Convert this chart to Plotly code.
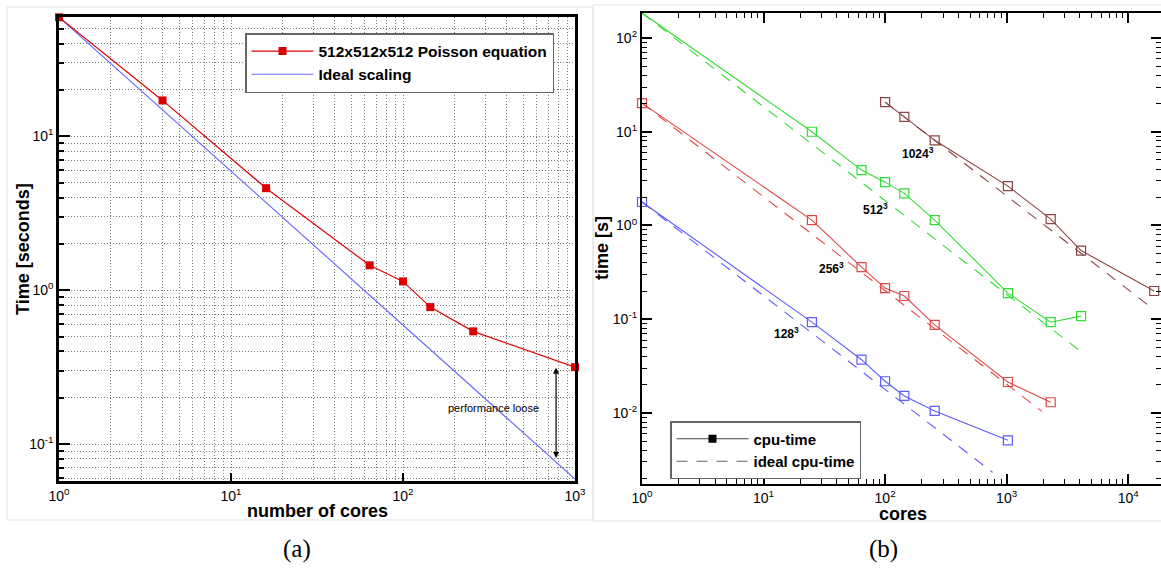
import plotly.graph_objects as go

W, H = 1161, 571

# ---------------- Panel (a) data ----------------
cores_a = [1, 4, 16, 64, 100, 144, 256, 1000]
time_a = [59.3, 17.1, 4.6, 1.45, 1.14, 0.776, 0.54, 0.316]
ideal_a_cores = [1, 1000]
ideal_a_time = [59.3, 0.0593]

# ---------------- Panel (b) data ----------------
cores_128 = [1, 25, 64, 100, 144, 256, 1024]
time_128 = [1.78, 0.093, 0.037, 0.0218, 0.0152, 0.0105, 0.0051]
cores_256 = [1, 25, 64, 100, 144, 256, 1024, 2304]
time_256 = [20.2, 1.14, 0.36, 0.215, 0.177, 0.087, 0.0214, 0.013]
cores_512 = [1, 25, 64, 100, 144, 256, 1024, 2304, 4096]
time_512 = [185, 10, 3.9, 2.9, 2.2, 1.14, 0.19, 0.093, 0.108]
cores_1024 = [100, 144, 256, 1024, 2304, 4096, 16384]
time_1024 = [20.7, 14.4, 8.1, 2.63, 1.17, 0.54, 0.2]

ideal_128_cores, ideal_128_time = [1, 768], [1.78, 0.00232]
ideal_256_cores, ideal_256_time = [1, 1950], [20.2, 0.0104]
ideal_512_cores, ideal_512_time = [1, 4096], [185, 0.045]
ideal_1024_cores, ideal_1024_time = [100, 16384], [20.7, 0.126]

tick_vals_a_x = [1, 10, 100, 1000]
tick_text_a_x = ["10<sup>0</sup>", "10<sup>1</sup>", "10<sup>2</sup>", "10<sup>3</sup>"]
tick_vals_a_y = [0.1, 1, 10]
tick_text_a_y = ["10<sup>-1</sup>", "10<sup>0</sup>", "10<sup>1</sup>"]
tick_vals_b_x = [1, 10, 100, 1000, 10000]
tick_text_b_x = ["10<sup>0</sup>", "10<sup>1</sup>", "10<sup>2</sup>", "10<sup>3</sup>", "10<sup>4</sup>"]
tick_vals_b_y = [0.01, 0.1, 1, 10, 100]
tick_text_b_y = ["10<sup>-2</sup>", "10<sup>-1</sup>", "10<sup>0</sup>", "10<sup>1</sup>", "10<sup>2</sup>"]

C_RED_A = "#dd0000"
C_BLUE_A = "#6a6aff"
C_GREEN = "#33dd33"
C_RED = "#e04848"
C_BLUE = "#5c5cff"
C_BROWN = "#8a4444"

FONT = "Liberation Sans, Arial, sans-serif"
GRID_COLOR = "#7a7a7a"
GRID_DASH = "1px,2px"


def px(x):
    return x / W


def py(y):
    return 1 - y / H


fig = go.Figure()

# ---- panel (a) traces ----
fig.add_trace(go.Scatter(
    x=ideal_a_cores, y=ideal_a_time, mode="lines", name="Ideal scaling",
    line=dict(color=C_BLUE_A, width=1.2), xaxis="x", yaxis="y", legend="legend",
    legendrank=2))
fig.add_trace(go.Scatter(
    x=cores_a, y=time_a, mode="lines+markers", name="512x512x512 Poisson equation",
    line=dict(color=C_RED_A, width=1.2),
    marker=dict(symbol="square", size=8, color=C_RED_A),
    cliponaxis=False, xaxis="x", yaxis="y", legend="legend", legendrank=1))

# ---- panel (b) traces ----
series = [
    (cores_512, time_512, ideal_512_cores, ideal_512_time, C_GREEN),
    (cores_256, time_256, ideal_256_cores, ideal_256_time, C_RED),
    (cores_128, time_128, ideal_128_cores, ideal_128_time, C_BLUE),
    (cores_1024, time_1024, ideal_1024_cores, ideal_1024_time, C_BROWN),
]
for cx, cy, ix, iy, col in series:
    fig.add_trace(go.Scatter(
        x=ix, y=iy, mode="lines", showlegend=False,
        line=dict(color=col, width=1.1, dash="11px,9px"), xaxis="x2", yaxis="y2"))
    fig.add_trace(go.Scatter(
        x=cx, y=cy, mode="lines+markers", showlegend=False,
        line=dict(color=col, width=1.1),
        marker=dict(symbol="square-open", size=9, color=col, line=dict(width=1.2, color=col)),
        cliponaxis=False, xaxis="x2", yaxis="y2"))

# legend entries for panel (b)
fig.add_trace(go.Scatter(
    x=[None], y=[None], mode="lines+markers", name="cpu-time",
    line=dict(color="#444444", width=1.2),
    marker=dict(symbol="square", size=8, color="black"),
    xaxis="x2", yaxis="y2", legend="legend2"))
fig.add_trace(go.Scatter(
    x=[None], y=[None], mode="lines", name="ideal cpu-time",
    line=dict(color="#666666", width=1.2, dash="11px,9px"),
    xaxis="x2", yaxis="y2", legend="legend2"))

grid_a = dict(showgrid=True, gridcolor=GRID_COLOR, griddash=GRID_DASH, gridwidth=1)

fig.update_layout(
    width=W, height=H,
    margin=dict(l=0, r=0, t=0, b=0, autoexpand=False),
    paper_bgcolor="white", plot_bgcolor="white",
    font=dict(family=FONT, color="black", size=14),
    xaxis=dict(
        type="log", domain=[px(59), px(575)], range=[0, 3], anchor="y",
        automargin=False,
        tickmode="array", tickvals=tick_vals_a_x, ticktext=tick_text_a_x,
        ticks="inside", ticklen=8, tickwidth=2, tickcolor="black",
        showline=True, linecolor="black", linewidth=2.5, mirror=True,
        tickfont=dict(size=14), zeroline=False,
        minor=dict(dtick="D1", ticks="", showgrid=True, gridcolor=GRID_COLOR,
                   griddash=GRID_DASH, gridwidth=1),
        **grid_a),
    yaxis=dict(
        type="log", domain=[py(481), py(17)], range=[-1.240, 1.775], anchor="x",
        automargin=False,
        tickmode="array", tickvals=tick_vals_a_y, ticktext=tick_text_a_y,
        ticks="inside", ticklen=11, tickwidth=2, tickcolor="black",
        showline=True, linecolor="black", linewidth=2.5, mirror=True,
        tickfont=dict(size=14), zeroline=False,
        minor=dict(dtick="D1", ticks="inside", ticklen=5, tickwidth=1.5, tickcolor="black",
                   showgrid=True, gridcolor=GRID_COLOR, griddash=GRID_DASH, gridwidth=1),
        **grid_a),
    xaxis2=dict(
        type="log", domain=[px(642), 1.0], range=[0, 4.27], anchor="y2",
        automargin=False,
        tickmode="array", tickvals=tick_vals_b_x, ticktext=tick_text_b_x,
        ticks="inside", ticklen=10, tickwidth=2, tickcolor="black",
        showline=True, linecolor="black", linewidth=2.2, mirror="allticks",
        showgrid=False, zeroline=False, tickfont=dict(size=14),
        minor=dict(dtick="D1", ticks="inside", ticklen=5, tickwidth=1.2,
                   tickcolor="black", showgrid=False)),
    yaxis2=dict(
        type="log", domain=[py(484), py(13)], range=[-2.758, 2.267], anchor="x2",
        automargin=False,
        tickmode="array", tickvals=tick_vals_b_y, ticktext=tick_text_b_y,
        ticks="inside", ticklen=10, tickwidth=2, tickcolor="black",
        showline=True, linecolor="black", linewidth=2.2, mirror="allticks",
        showgrid=False, zeroline=False, tickfont=dict(size=14),
        minor=dict(dtick="D1", ticks="inside", ticklen=5, tickwidth=1.2,
                   tickcolor="black", showgrid=False)),
    legend=dict(
        x=px(245), y=py(33), xanchor="left", yanchor="top",
        bgcolor="white", bordercolor="#666666", borderwidth=1.5,
        font=dict(size=15.5, family=FONT, weight="bold"),
        tracegroupgap=0, itemwidth=62, traceorder="normal"),
    legend2=dict(
        x=px(670), y=py(421), xanchor="left", yanchor="top",
        bgcolor="white", bordercolor="#666666", borderwidth=1.5,
        font=dict(size=15, family=FONT, weight="bold"),
        tracegroupgap=0, itemwidth=72),
    showlegend=True,
)

annotations = [
    # axis titles
    dict(text="<b>number of cores</b>", x=px(317), y=py(511), font=dict(size=18)),
    dict(text="<b>Time [seconds]</b>", x=px(23), y=py(249), textangle=-90, font=dict(size=18)),
    dict(text="<b>cores</b>", x=px(903), y=py(514), font=dict(size=18)),
    dict(text="<b>time [s]</b>", x=px(602), y=py(248), textangle=-90, font=dict(size=18)),
    # captions
    dict(text="(a)", x=px(297), y=py(549), font=dict(size=25, family="Liberation Serif, Times New Roman, serif")),
    dict(text="(b)", x=px(883), y=py(549), font=dict(size=25, family="Liberation Serif, Times New Roman, serif")),
    # panel (a) annotation
    dict(text="performance loose", x=px(493), y=py(408), font=dict(size=11)),
    # panel (b) size labels
    dict(text="<b>1024<sup>3</sup></b>", x=px(918), y=py(153), font=dict(size=12)),
    dict(text="<b>512<sup>3</sup></b>", x=px(875), y=py(209), font=dict(size=12)),
    dict(text="<b>256<sup>3</sup></b>", x=px(831), y=py(268), font=dict(size=12)),
    dict(text="<b>128<sup>3</sup></b>", x=px(786), y=py(333), font=dict(size=12)),
]
for a in annotations:
    a.update(xref="paper", yref="paper", showarrow=False, xanchor="center", yanchor="middle")
    fig.add_annotation(**a)

# double-headed arrow in panel (a) (log coordinates)
fig.add_annotation(
    x=2.89, y=-1.09, ax=2.89, ay=-0.494, xref="x", yref="y", axref="x", ayref="y",
    text="", showarrow=True, arrowhead=2, startarrowhead=2, arrowside="end+start",
    arrowwidth=1.2, arrowsize=1, startarrowsize=1, arrowcolor="black")

# light frames around each sub-figure
fig.add_shape(type="rect", xref="paper", yref="paper",
              x0=px(7), x1=px(593), y0=py(520), y1=py(7),
              line=dict(color="#e2e2e2", width=1), layer="below")
fig.add_shape(type="rect", xref="paper", yref="paper",
              x0=px(593), x1=1.02, y0=py(521), y1=py(5),
              line=dict(color="#e2e2e2", width=1), layer="below")

fig.write_html("out.html")
